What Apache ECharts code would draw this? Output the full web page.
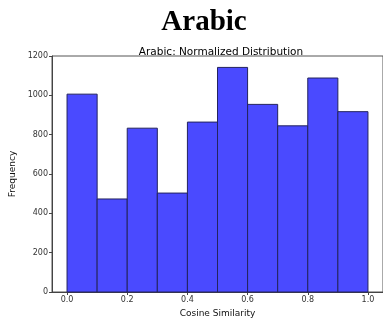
<!DOCTYPE html>
<html>
<head>
<meta charset="utf-8">
<script src="https://cdn.jsdelivr.net/npm/echarts@6/dist/echarts.min.js"></script>
<style>
  html, body { margin: 0; padding: 0; background: #fff; }
  #chart { width: 383px; height: 320px; }
</style>
</head>
<body>
<div id="chart"></div>
<script>
// Histogram of cosine similarity, 10 equal bins on [0, 1]
const binEdges = [0.0, 0.1, 0.2, 0.3, 0.4, 0.5, 0.6, 0.7, 0.8, 0.9, 1.0];
const counts = [1006, 473, 833, 503, 864, 1142, 954, 845, 1088, 917];
const xTicks = [0.0, 0.2, 0.4, 0.6, 0.8, 1.0];
const yTicks = [0, 200, 400, 600, 800, 1000, 1200];

const bins = counts.map((c, i) => [binEdges[i], binEdges[i + 1], c]);

const chart = echarts.init(document.getElementById('chart'), null, { renderer: 'canvas' });

const tickFont = { fontFamily: 'DejaVu Sans', fontSize: 8, color: '#333' };

chart.setOption({
  animation: false,
  backgroundColor: '#fff',
  title: [
    {
      text: 'Arabic',
      left: 199,
      textAlign: 'center',
      top: 3,
      textStyle: { fontFamily: 'Liberation Serif', fontWeight: 'bold', fontSize: 29, color: '#000' }
    },
    {
      text: 'Arabic: Normalized Distribution',
      left: 216,
      textAlign: 'center',
      top: 42,
      textStyle: { fontFamily: 'DejaVu Sans', fontWeight: 'normal', fontSize: 10.5, color: '#000' }
    }
  ],
  grid: {
    left: 52, right: 0, top: 56, bottom: 28,
    outerBoundsMode: 'none',
    containLabel: false,
    show: true, borderColor: '#555', borderWidth: 1, backgroundColor: 'transparent'
  },
  xAxis: {
    type: 'value',
    min: -0.05, max: 1.05,
    name: 'Cosine Similarity',
    nameLocation: 'middle',
    nameGap: 12,
    nameTextStyle: { fontFamily: 'DejaVu Sans', fontSize: 9, color: '#111' },
    axisLine: { show: true, onZero: false, lineStyle: { color: '#444' } },
    axisTick: { show: true, length: 3, lineStyle: { color: '#444' }, customValues: xTicks },
    axisLabel: Object.assign({ margin: 4, customValues: xTicks, formatter: v => v.toFixed(1) }, tickFont),
    splitLine: { show: false }
  },
  yAxis: {
    type: 'value',
    min: 0, max: 1200, interval: 200,
    name: 'Frequency',
    nameLocation: 'middle',
    nameGap: 26,
    nameTextStyle: { fontFamily: 'DejaVu Sans', fontSize: 9, color: '#111' },
    axisLine: { show: true, onZero: false, lineStyle: { color: '#444' } },
    axisTick: { show: true, length: 3, lineStyle: { color: '#444' } },
    axisLabel: Object.assign({ margin: 4, customValues: yTicks, formatter: v => String(v) }, tickFont),
    splitLine: { show: false }
  },
  series: [{
    type: 'custom',
    data: bins,
    encode: { x: [0, 1], y: 2 },
    renderItem: function (params, api) {
      const p0 = api.coord([api.value(0), 0]);
      const p1 = api.coord([api.value(1), api.value(2)]);
      return {
        type: 'rect',
        shape: { x: p0[0], y: p1[1], width: p1[0] - p0[0], height: p0[1] - p1[1] },
        style: { fill: '#4a4aff', stroke: '#23235e', lineWidth: 1 }
      };
    }
  }]
});
</script>
</body>
</html>
